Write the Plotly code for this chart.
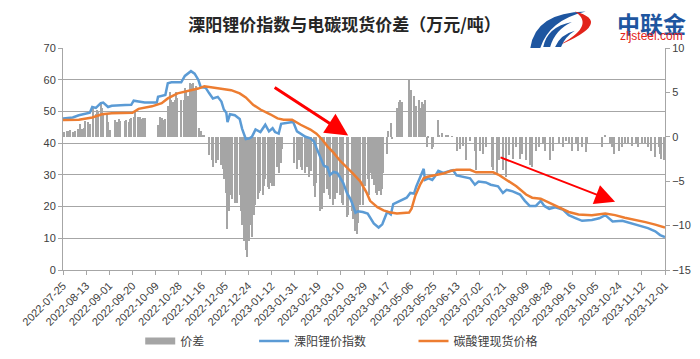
import pandas as pd
import plotly.graph_objects as go

# ---------------- data (day offsets from 2022-07-25) ----------------
base_date = "2022-07-25"

blue_day = [0, 8, 13, 22, 24, 27, 31, 33, 37, 40, 51, 56, 58, 62, 67, 77, 78, 84, 86, 89,
            97, 100, 105, 108, 111, 113, 117, 120, 123, 127, 130, 132, 134, 135, 137, 141, 145, 147, 150, 153,
            155, 158, 162, 166, 169, 172, 174, 177, 179, 187, 189, 192, 195, 199, 203, 206, 208, 211, 214, 217,
            219, 222, 225, 227, 230, 233, 236, 238, 240, 242, 246, 250, 255, 259, 262, 266, 269, 271, 277, 282,
            285, 288, 290, 293, 296, 297, 300, 303, 305, 308, 312, 318, 320, 323, 328, 334, 338, 341, 347, 351,
            357, 361, 364, 369, 375, 379, 383, 388, 392, 395, 399, 404, 410, 415, 421, 426, 434, 440, 445, 451,
            459, 464, 470, 475, 480, 486, 490, 494]
blue_val = [47.8, 48.1, 48.8, 49.6, 51.4, 51.1, 52.6, 52.8, 51.4, 51.8, 52.0, 52.1, 53.4, 53.1, 52.8, 52.8, 54.6, 55.2, 58.9, 59.2,
            59.2, 61.2, 62.7, 61.9, 60.0, 57.7, 57.5, 55.7, 54.1, 54.6, 53.1, 50.6, 49.6, 46.6, 49.1, 48.8, 47.6, 44.5, 41.3, 41.5,
            42.0, 44.3, 43.5, 45.8, 43.7, 44.7, 43.5, 43.0, 46.1, 46.6, 46.6, 43.7, 43.0, 42.0, 41.5, 40.5, 38.5, 35.5, 32.9, 32.4,
            29.9, 30.9, 30.6, 29.4, 27.4, 24.3, 22.3, 20.3, 18.1, 18.5, 18.3, 17.8, 14.7, 13.4, 14.4, 18.3, 17.5, 20.8, 21.8, 22.8,
            24.3, 24.1, 26.4, 29.4, 31.9, 28.4, 28.9, 28.4, 29.4, 31.3, 30.6, 31.3, 31.5, 29.8, 29.4, 28.9, 26.9, 27.9, 27.6, 26.9,
            26.4, 24.3, 25.3, 24.8, 23.8, 21.8, 20.2, 20.2, 21.8, 20.2, 19.3, 19.8, 19.1, 17.3, 16.3, 15.5, 15.8, 16.3, 17.3, 15.3,
            15.5, 14.9, 14.2, 13.7, 13.2, 12.2, 11.0, 10.4]

orange_day = [0, 13, 24, 32, 40, 57, 62, 73, 81, 86, 94, 103, 111, 116, 124, 130, 138, 145, 150, 156,
              162, 170, 176, 181, 188, 195, 203, 208, 213, 217, 222, 227, 233, 238, 244, 249, 252, 258, 263, 269,
              274, 284, 286, 289, 293, 296, 299, 307, 312, 318, 323, 334, 339, 353, 358, 364, 372, 380, 385, 392,
              399, 407, 415, 423, 434, 445, 453, 461, 470, 478, 486, 494]
orange_val = [47.3, 47.4, 48.1, 49.1, 49.4, 49.6, 50.8, 51.6, 52.6, 54.1, 55.7, 56.5, 57.2, 57.9, 57.4, 57.2, 56.7, 55.7, 54.4, 52.1,
              50.6, 49.1, 47.8, 47.4, 47.4, 45.8, 44.3, 43.0, 41.0, 39.0, 37.0, 34.6, 32.4, 30.4, 27.9, 24.5, 21.8, 19.8, 18.8, 18.1,
              17.8, 18.1, 19.3, 23.3, 26.9, 28.9, 29.4, 29.9, 30.4, 31.2, 31.6, 31.6, 30.8, 30.8, 29.9, 28.4, 26.4, 23.8, 22.8, 22.5,
              21.3, 19.8, 18.3, 17.5, 17.3, 17.8, 17.3, 16.5, 15.8, 15.1, 14.3, 13.4]

spread_day = [1, 3, 4, 6, 8, 10, 12, 14, 16, 17, 18, 21, 22, 25, 27, 28, 29, 31, 32, 33,
              36, 37, 39, 43, 44, 46, 47, 51, 52, 54, 55, 56, 58, 59, 62, 63, 65, 66, 67,
              78, 80, 81, 82, 84, 86, 88, 89, 90, 92, 93, 94, 97, 99, 100, 101, 103, 104, 105, 107,
              108, 109, 112, 113, 115, 116,
              120, 122, 123, 126, 127, 130, 131, 132, 134, 135, 136, 138, 139, 141, 143, 145, 146, 147, 149, 150,
              151, 153, 154, 155, 157, 158, 160, 161, 162, 164, 165, 166, 168, 169, 170, 172, 173, 176, 177, 179, 180,
              190, 192, 194, 195, 196, 199, 200, 202, 204, 206, 207, 208, 211, 213, 214, 217, 218, 219, 222, 223,
              225, 227, 229, 230, 233, 234, 237, 238, 240, 241, 242, 244, 246, 248, 250, 251, 252, 254, 255, 257,
              258, 259, 261, 262, 263, 266, 267, 269, 270, 274, 276, 277, 278, 284, 285, 286, 288, 290, 292, 293,
              295, 296, 297, 299, 300, 303, 304, 308, 309, 311, 314, 316, 319,
              323, 326, 328, 331, 334, 338, 339, 342, 345, 347, 352, 353, 356, 358, 361, 364, 366, 369, 372, 375,
              377, 380, 383, 385, 388, 391, 394, 396, 400, 402, 407, 410, 413, 415, 418, 421, 423, 426, 429, 430,
              442, 445, 449, 451, 452, 456, 459, 461, 464, 467, 470, 472, 475, 478, 480, 483, 486, 489, 490, 491,
              493, 494]
spread_val = [0.54, 0.69, 0.62, 0.76, 0.54, 0.69, 0.9, 1.4, 0.9, 1.0, 1.8, 1.7, 1.4, 3.2, 2.6, 3.0, 2.8, 3.7, 3.2, 2.4,
              2.6, 1.7, 0.8, 1.9, 1.7, 2.0, 1.8, 1.8, 1.9, 1.7, 2.0, 2.1, 2.2, 2.8, 2.2, 2.2, 2.0, 2.1, 2.1,
              1.3, 2.2, 2.1, 1.9, 2.0, 3.5, 5.1, 4.1, 3.9, 4.2, 5.0, 4.4, 4.1, 4.2, 5.5, 5.0, 4.6, 6.1, 5.9, 6.1,
              5.3, 5.7, 1.0, 0.7, 0.25, 0.1,
              -2.1, -2.6, -3.4, -3.0, -2.6, -3.2, -3.6, -4.8, -6.3, -10.4, -8.4, -6.6, -7.0, -7.4, -7.5, -6.6, -8.4, -9.9, -11.7, -12.8,
              -13.5, -11.7, -9.9, -11.3, -8.8, -7.7, -7.0, -6.3, -6.1, -6.6, -5.5, -4.8, -5.7, -5.9, -5.2, -5.5, -5.5, -3.4, -4.1, -3.0, -1.4,
              -3.0, -3.6, -2.6, -3.4, -3.7, -4.1, -3.4, -4.5, -3.9, -5.5, -6.8, -5.2, -8.4, -8.1, -6.3, -5.9, -6.6, -7.0, -7.7, -7.0,
              -6.3, -6.6, -7.4, -7.7, -9.0, -8.8, -8.4, -9.3, -10.6, -11.0, -9.7, -7.7, -7.7, -5.5, -4.8, -6.6, -4.1, -4.8, -5.4, -6.3,
              -6.6, -6.1, -6.6, -5.9, -4.1, -1.9, 0.6, 1.5, -0.3, 3.3, 3.9, 4.1, 3.9, 6.4, 5.0, 5.3, 4.6, 3.5, 4.1, 3.3,
              3.9, 3.7, 4.1, -1.2, -0.1, -1.4, -1.2, 1.9, 0.25, 0.4, 0.25, 0.1, 0.07,
              -1.6, -1.4, -1.0, -2.6, -0.5, -1.6, -3.7, -1.6, -1.9, -1.2, -3.4, -3.7, -4.1, -2.6, -3.7, -4.5, -2.1, -2.5, -1.2, -2.5,
              -1.9, -2.6, -3.2, -3.4, -1.6, -1.2, -0.8, -1.6, -2.6, -1.6, -0.65, -1.2, -0.5, -0.8, -1.6, -0.8, -1.6, -1.2, -1.7, -0.8,
              -1.1, 0.2, -0.65, -1.2, -1.9, -1.6, -1.2, -0.8, -0.65, -1.0, -0.8, -1.2, -0.65, -0.8, -1.2, -1.6, -2.3, -1.2, -1.9, -2.5,
              -2.6, -2.3]

series_names = ["价差", "溧阳锂价指数", "碳酸锂现货价格"]
title_text = "溧阳锂价指数与电碳现货价差（万元/吨）"
x_start, x_end = "2022-07-25", "2023-12-01"
tick_step_days = 19


def to_dates(days):
    t0 = pd.Timestamp(base_date)
    return [(t0 + pd.Timedelta(days=d)).strftime("%Y-%m-%d") for d in days]


# ---------------- layout geometry helpers ----------------
W, H = 700, 359
L, R, T, B = 49, 43, 40, 88
PW, PH = W - L - R, H - T - B


def px(X, Y):
    return (X - L) / PW, (H - B - Y) / PH


GRAY = "#A5A5A5"
AXC = "#A6A6A6"
BLUE = "#5B9BD5"
ORANGE = "#ED7D31"
TXT = "#404040"
FONT = "Liberation Sans, Noto Sans CJK SC, sans-serif"
CJK = "Noto Sans CJK SC, sans-serif"

fig = go.Figure()

fig.add_trace(go.Bar(
    x=to_dates(spread_day), y=spread_val, name=series_names[0],
    marker=dict(color=GRAY, line=dict(width=0)),
    width=1.0 * 86400000, showlegend=False, yaxis="y",
))
# legend entry for the spread (Excel-style wide gray swatch)
fig.add_trace(go.Scatter(
    x=[None], y=[None], mode="lines", name=series_names[0],
    line=dict(color=GRAY, width=7), yaxis="y", legend="legend",
))
fig.add_trace(go.Scatter(
    x=to_dates(blue_day), y=blue_val, name=series_names[1], mode="lines",
    line=dict(color=BLUE, width=2.5), yaxis="y2", legend="legend2",
))
fig.add_trace(go.Scatter(
    x=to_dates(orange_day), y=orange_val, name=series_names[2], mode="lines",
    line=dict(color=ORANGE, width=2.5), yaxis="y2", legend="legend3",
))

leg_common = dict(orientation="h", yanchor="middle", xanchor="left",
                  font=dict(family=CJK, size=12, color=TXT), bgcolor="rgba(0,0,0,0)",
                  borderwidth=0)
lx1, ly = px(127, 345)
lx2, _ = px(242, 345)
lx3, _ = px(403, 345)

fig.update_layout(
    width=W, height=H,
    margin=dict(l=L, r=R, t=T, b=B, pad=0),
    paper_bgcolor="white", plot_bgcolor="white",
    bargap=0,
    title=dict(text="<b>" + title_text + "</b>", x=336.5 / W, xanchor="center",
               y=1 - 17 / H, yanchor="middle", yref="container",
               font=dict(family=CJK, size=17, color="#262626")),
    xaxis=dict(
        type="date", range=[x_start, x_end],
        tick0=x_start, dtick=tick_step_days * 86400000, tickformat="%Y-%m-%d",
        tickangle=-45, tickfont=dict(family=FONT, size=11, color=TXT),
        showgrid=False, showline=True, linecolor=AXC, linewidth=1,
        ticks="outside", ticklen=4, tickcolor=AXC, zeroline=False,
    ),
    yaxis=dict(
        side="right", range=[-15, 10], dtick=5, showgrid=False, zeroline=False,
        showline=True, linecolor=AXC, ticks="outside", ticklen=4, tickcolor=AXC,
        tickfont=dict(family=FONT, size=11, color=TXT),
    ),
    yaxis2=dict(
        side="left", overlaying="y", range=[0, 70], dtick=10,
        showgrid=True, gridcolor=AXC, gridwidth=1, zeroline=False,
        showline=True, linecolor=AXC, ticks="outside", ticklen=4, tickcolor=AXC,
        tickfont=dict(family=FONT, size=11, color=TXT),
    ),
    legend=dict(x=lx1, y=ly, **leg_common),
    legend2=dict(x=lx2, y=ly, **leg_common),
    legend3=dict(x=lx3, y=ly, **leg_common),
    showlegend=True,
)

# red arrows
fig.add_annotation(x=to_dates([234])[0], y=42.4, xref="x", yref="y2", text="",
                   showarrow=True, ax=-75, ay=-49, arrowcolor="#FF0000",
                   arrowwidth=3, arrowhead=2, arrowsize=1.5, standoff=0)
fig.add_annotation(x=to_dates([453])[0], y=21.5, xref="x", yref="y2", text="",
                   showarrow=True, ax=-116, ay=-45, arrowcolor="#FF0000",
                   arrowwidth=2, arrowhead=2, arrowsize=2, standoff=0)

# logo text
lxm, lym = px(643, 14)
fig.add_annotation(x=lxm, y=lym, xref="paper", yref="paper", text="<b>中联金</b>",
                   showarrow=False, font=dict(family=CJK, size=23, color="#1E56A0"),
                   xanchor="center", yanchor="middle", borderpad=0)
lxm2, lym2 = px(643, 28)
fig.add_annotation(x=lxm2, y=lym2, xref="paper", yref="paper", text="zljsteel.com",
                   showarrow=False, font=dict(family="Liberation Sans", size=12, color="#E2231A"),
                   xanchor="center", yanchor="middle", borderpad=0)


def path(points):
    segs = []
    for cmd, pts in points:
        coords = " ".join("%.4f,%.4f" % px(a, b) for a, b in pts)
        segs.append(cmd + coords)
    return " ".join(segs) + " Z"


logo_shapes = [
    ([("M", [(521, 40)]), ("Q", [(526, 3), (577, 2)]), ("Q", [(540, 11), (531, 40)])], "#1E56A0"),
    ([("M", [(566, 2)]), ("Q", [(606, 13), (548, 38)]), ("Q", [(588, 17), (566, 2)])], "#E2231A"),
    ([("M", [(534, 39)]), ("Q", [(538, 18), (563, 13)]), ("Q", [(546, 21), (541, 39)])], "#1E56A0"),
    ([("M", [(546, 39)]), ("Q", [(551, 26), (566, 22)]), ("Q", [(556, 28), (552, 39)])], "#1E56A0"),
]
for pts, col in logo_shapes:
    fig.add_shape(type="path", path=path(pts), xref="paper", yref="paper",
                  fillcolor=col, line=dict(width=0), layer="above")

fig.write_html("out.html")
